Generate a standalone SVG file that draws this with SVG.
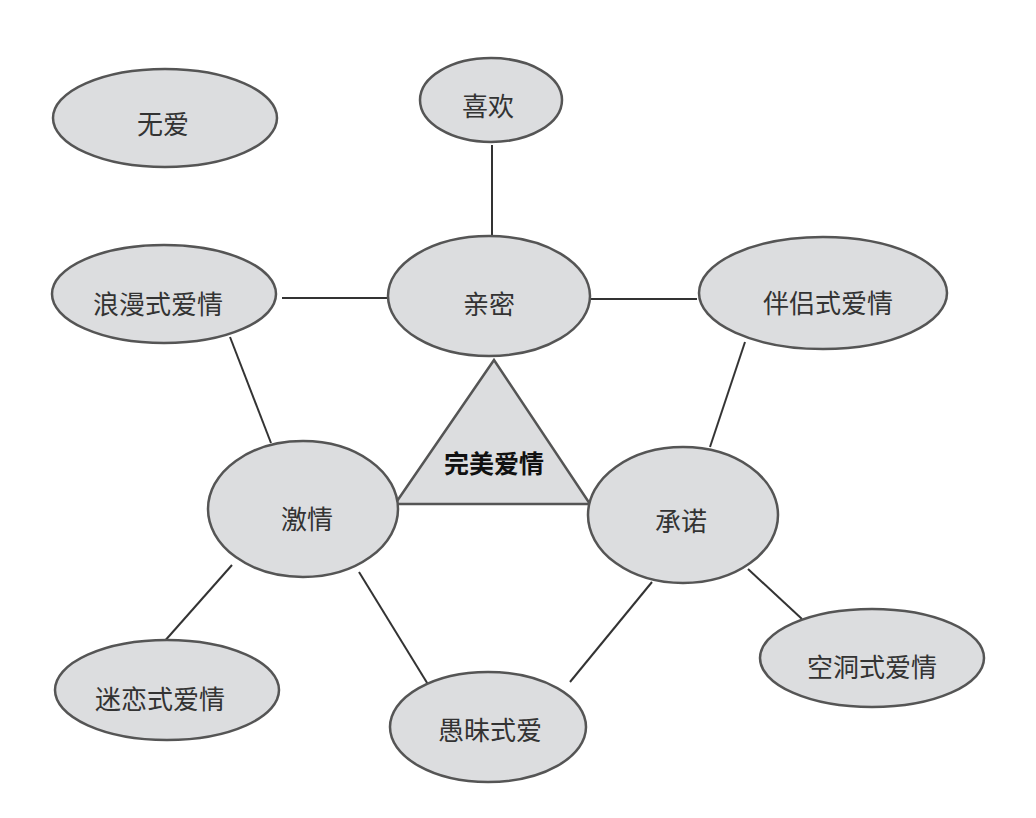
<svg xmlns="http://www.w3.org/2000/svg" width="1036" height="818" viewBox="0 0 1036 818">
<style>
.n ellipse{fill:#dcdddf;stroke:#555;stroke-width:2.5}
.n text{font-family:"Noto Sans CJK SC","Noto Sans",sans-serif;font-size:26px;fill:#333;text-anchor:middle;dominant-baseline:central}
.c line{stroke:#333;stroke-width:2}
#tri polygon{fill:#dcdddf;stroke:#555;stroke-width:2.5;stroke-linejoin:miter}
#tri text{font-family:"Noto Sans CJK SC",serif;font-size:25px;font-weight:bold;fill:#111;text-anchor:middle;dominant-baseline:central}
</style>
<rect width="1036" height="818" fill="#fff"/>
<g class="c" id="connectors">
<line x1="492" y1="145" x2="492" y2="236"/>
<line x1="282" y1="298" x2="388" y2="298"/>
<line x1="590" y1="299" x2="697" y2="299"/>
<line x1="230" y1="337" x2="271" y2="443"/>
<line x1="745" y1="342" x2="710" y2="447"/>
<line x1="232" y1="565" x2="163" y2="643"/>
<line x1="359" y1="572" x2="429" y2="686"/>
<line x1="652" y1="582" x2="570" y2="682"/>
<line x1="748" y1="569" x2="802" y2="619"/>
<line x1="397" y1="504" x2="590" y2="504"/>
</g>
<g id="tri">
<polygon points="494,360 395,504 590,504"/>
<text x="494" y="462">完美爱情</text>
</g>
<g class="n" id="wuai"><ellipse cx="165" cy="118" rx="112" ry="49"/><text x="163" y="122">无爱</text></g>
<g class="n" id="xihuan"><ellipse cx="491" cy="100" rx="71" ry="42"/><text x="488" y="104">喜欢</text></g>
<g class="n" id="qinmi"><ellipse cx="489" cy="296" rx="101" ry="60"/><text x="489" y="302">亲密</text></g>
<g class="n" id="langman"><ellipse cx="164" cy="294" rx="112" ry="49"/><text x="158" y="302">浪漫式爱情</text></g>
<g class="n" id="banlv"><ellipse cx="823" cy="293" rx="124" ry="56"/><text x="828" y="301">伴侣式爱情</text></g>
<g class="n" id="jiqing"><ellipse cx="303" cy="509" rx="95" ry="68"/><text x="307" y="517">激情</text></g>
<g class="n" id="chengnuo"><ellipse cx="683" cy="515" rx="95" ry="68"/><text x="681" y="519">承诺</text></g>
<g class="n" id="milian"><ellipse cx="167" cy="690" rx="112" ry="50"/><text x="160" y="697">迷恋式爱情</text></g>
<g class="n" id="yumei"><ellipse cx="488" cy="727" rx="98" ry="55"/><text x="490" y="728">愚昧式爱</text></g>
<g class="n" id="kongdong"><ellipse cx="872" cy="658" rx="112" ry="49"/><text x="872" y="665">空洞式爱情</text></g>
</svg>
